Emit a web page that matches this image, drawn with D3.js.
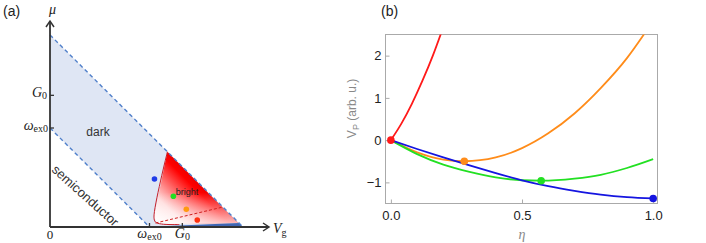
<!DOCTYPE html>
<html>
<head>
<meta charset="utf-8">
<script src="https://cdn.jsdelivr.net/npm/d3@7"></script>
<style>
  body { margin: 0; background: #fff; }
  #chart { width: 706px; height: 243px; }
  text { font-family: "Liberation Sans", Arial, sans-serif; }
  .serif { font-family: "Liberation Serif", "DejaVu Serif", serif; }
</style>
</head>
<body>
<div id="chart"></div>
<script>

// PANEL (a) DATA (units of omega_ex0)
const wex0 = 1.0;
const G0 = 1.33;
const topEdge = 1.94;
const darkRegion = [[0, wex0], [0, topEdge], [topEdge, 0], [wex0, 0]];
const brightRegion = [[1.18, 0.76], [1.89, 0.04], [1.2, 0.03], [1.08, 0.04], [1.045, 0.1]];
const stripRegion = [[1.05, 0], [topEdge, 0], [1.9, 0.04], [1.12, 0.008]];
const brightEdge = [[1.18, 0.76], [1.045, 0.1], [1.06, 0.05], [1.12, 0.03], [1.3, 0.025]];
const brightDashed = [[1.06, 0.04], [1.73, 0.2]];
const dotsA = [
    {v: 1.05, mu: 0.485, color: "#1f3ce8"},
    {v: 1.24, mu: 0.31, color: "#22e022"},
    {v: 1.37, mu: 0.18, color: "#ff9a10"},
    {v: 1.48, mu: 0.07, color: "#ff3010"}
];

// PANEL (b) DATA
const etaRed = [0, 0.04, 0.08, 0.12, 0.16, 0.2];
const vpRed = [0, 0.39, 0.86, 1.40, 2.00, 2.68];
const etaOrange = [0, 0.1, 0.2, 0.28, 0.4, 0.5, 0.6, 0.7, 0.8, 0.9, 0.97];
const vpOrange = [0, -0.29, -0.46, -0.5, -0.41, -0.19, 0.16, 0.63, 1.23, 1.94, 2.55];
const etaGreen = [0, 0.1, 0.2, 0.3, 0.4, 0.5, 0.573, 0.7, 0.8, 0.9, 1.0];
const vpGreen = [0, -0.33, -0.58, -0.75, -0.88, -0.95, -0.96, -0.91, -0.82, -0.66, -0.45];
const etaBlue = [0, 0.1, 0.2, 0.3, 0.4, 0.5, 0.6, 0.7, 0.8, 0.9, 1.0];
const vpBlue = [0, -0.21, -0.41, -0.6, -0.78, -0.95, -1.09, -1.2, -1.29, -1.35, -1.38];
const dotsB = [
    {eta: 0, vp: 0, color: "#ff1a1a"},
    {eta: 0.28, vp: -0.5, color: "#ff8c1a"},
    {eta: 0.573, vp: -0.96, color: "#22e022"},
    {eta: 1.0, vp: -1.38, color: "#1515e0"}
];
const xTicksB = [0, 0.5, 1.0];
const yTicksB = [-1, 0, 1, 2];

const width = 706, height = 243;
const svg = d3.select("#chart").append("svg")
    .attr("width", width).attr("height", height);

const defs = svg.append("defs");

// ---------- PANEL (a) ----------

const xA = d3.scaleLinear().domain([0, 1]).range([50, 149.5]);
const yA = d3.scaleLinear().domain([0, 1]).range([227, 128]);
const toPts = arr => arr.map(d => [xA(d[0]), yA(d[1])]);
const lineA = d3.line();

const ga = svg.append("g");

ga.append("text").attr("x", 3).attr("y", 16).attr("font-size", 14).attr("fill", "#222").text("(a)");

ga.append("path")
    .attr("d", lineA(toPts(darkRegion)) + "Z")
    .attr("fill", "#dfe6f4");

// gradient perpendicular to the top edge
const p0 = [xA(1.04), yA(0.04)];
const t = ((p0[0] - p0[1]) - (xA(0) - yA(topEdge))) / 2;
const p1 = [p0[0] - t, p0[1] + t];
const grad = defs.append("linearGradient").attr("id", "redGrad")
    .attr("gradientUnits", "userSpaceOnUse")
    .attr("x1", p0[0]).attr("y1", p0[1]).attr("x2", p1[0]).attr("y2", p1[1]);
grad.append("stop").attr("offset", 0).attr("stop-color", "#ffffff");
grad.append("stop").attr("offset", 0.35).attr("stop-color", "#ffd8d8");
grad.append("stop").attr("offset", 0.7).attr("stop-color", "#ff5050");
grad.append("stop").attr("offset", 0.9).attr("stop-color", "#ff0000");
grad.append("stop").attr("offset", 1).attr("stop-color", "#f00000");

const fade = defs.append("linearGradient").attr("id", "fadeGrad")
    .attr("gradientUnits", "userSpaceOnUse")
    .attr("x1", 0).attr("y1", yA(0.03)).attr("x2", 0).attr("y2", yA(0.35));
fade.append("stop").attr("offset", 0).attr("stop-color", "#fff").attr("stop-opacity", 0.75);
fade.append("stop").attr("offset", 1).attr("stop-color", "#fff").attr("stop-opacity", 0);

const brightPath = lineA.curve(d3.curveLinearClosed)(toPts(brightRegion));
ga.append("path").attr("d", brightPath).attr("fill", "url(#redGrad)");
ga.append("path").attr("d", brightPath).attr("fill", "url(#fadeGrad)");
lineA.curve(d3.curveLinear);

ga.append("path")
    .attr("d", lineA(toPts(stripRegion)) + "Z")
    .attr("fill", "#3f66b3");

ga.append("path")
    .attr("d", d3.line().curve(d3.curveCatmullRom)(toPts(brightEdge)))
    .attr("fill", "none").attr("stroke", "#c8202a").attr("stroke-width", 1);

ga.append("path")
    .attr("d", lineA(toPts(brightDashed)))
    .attr("fill", "none").attr("stroke", "#d02020").attr("stroke-width", 1)
    .attr("stroke-dasharray", "3,2");

// dashed boundaries
[[[0, wex0], [wex0, 0]], [[0, topEdge], [topEdge, 0]]].forEach(seg => {
    ga.append("path")
        .attr("d", lineA(toPts(seg)))
        .attr("stroke", "#4f7fca").attr("stroke-width", 1.4)
        .attr("stroke-dasharray", "4,3").attr("fill", "none");
});

ga.selectAll(".dotA").data(dotsA).enter().append("circle")
    .attr("cx", d => xA(d.v)).attr("cy", d => yA(d.mu))
    .attr("r", 2.8).attr("fill", d => d.color);

// axes
const ax0 = xA(0), ay0 = yA(0);
ga.append("line").attr("x1", ax0).attr("y1", ay0).attr("x2", ax0).attr("y2", 21)
    .attr("stroke", "#333").attr("stroke-width", 1.8);
ga.append("line").attr("x1", ax0).attr("y1", ay0).attr("x2", 269).attr("y2", ay0)
    .attr("stroke", "#333").attr("stroke-width", 1.8);
ga.append("path").attr("d", `M${ax0 - 4},${27} L${ax0},${21} L${ax0 + 4},${27}`)
    .attr("fill", "none").attr("stroke", "#333").attr("stroke-width", 1.5);
ga.append("path").attr("d", `M263,${ay0 - 4} L269,${ay0} L263,${ay0 + 4}`)
    .attr("fill", "none").attr("stroke", "#333").attr("stroke-width", 1.5);

// ticks
[wex0, G0].forEach(v => {
    ga.append("line").attr("x1", ax0).attr("x2", ax0 + 4).attr("y1", yA(v)).attr("y2", yA(v))
        .attr("stroke", "#333").attr("stroke-width", 1.3);
    ga.append("line").attr("y1", ay0).attr("y2", ay0 - 4).attr("x1", xA(v)).attr("x2", xA(v))
        .attr("stroke", "#333").attr("stroke-width", 1.3);
});

function omegaLabel(sel) {
    sel.append("tspan").attr("font-style", "italic").text("ω");
    sel.append("tspan").attr("font-size", 10).attr("dy", 2).text("ex0");
}
function gLabel(sel) {
    sel.append("tspan").attr("font-style", "italic").text("G");
    sel.append("tspan").attr("font-size", 10).attr("dy", 2).text("0");
}

ga.append("text").attr("class", "serif").attr("x", ax0 - 3).attr("y", yA(G0) + 2)
    .attr("text-anchor", "end").attr("font-size", 14).attr("fill", "#222").call(gLabel);
ga.append("text").attr("class", "serif").attr("x", ax0 - 2).attr("y", yA(wex0) + 2)
    .attr("text-anchor", "end").attr("font-size", 14).attr("fill", "#222").call(omegaLabel);
ga.append("text").attr("class", "serif").attr("x", ax0).attr("y", 239)
    .attr("text-anchor", "middle").attr("font-size", 13).attr("fill", "#222").text("0");
ga.append("text").attr("class", "serif").attr("x", xA(wex0)).attr("y", 238)
    .attr("text-anchor", "middle").attr("font-size", 14).attr("fill", "#222").call(omegaLabel);
ga.append("text").attr("class", "serif").attr("x", xA(G0)).attr("y", 238)
    .attr("text-anchor", "middle").attr("font-size", 14).attr("fill", "#222").call(gLabel);
ga.append("text").attr("class", "serif").attr("x", 49).attr("y", 14)
    .attr("font-size", 14).attr("font-style", "italic").attr("fill", "#222").text("μ");
ga.append("text").attr("class", "serif").attr("x", 273).attr("y", 233)
    .attr("font-size", 14).attr("fill", "#222")
    .call(s => {
        s.append("tspan").attr("font-style", "italic").text("V");
        s.append("tspan").attr("font-size", 10).attr("dy", 3).text("g");
    });

ga.append("text").attr("x", 98).attr("y", 136).attr("text-anchor", "middle")
    .attr("font-size", 12).attr("fill", "#333").text("dark");
ga.append("text").attr("x", 187).attr("y", 195).attr("text-anchor", "middle")
    .attr("font-size", 9).attr("fill", "#222").text("bright");
ga.append("text").attr("transform", "translate(85,196) rotate(42)")
    .attr("text-anchor", "middle").attr("dy", 4)
    .attr("font-size", 13).attr("fill", "#333").text("semiconductor");

// ---------- PANEL (b) ----------

const gb = svg.append("g");
const frame = {left: 385.5, right: 657.5, top: 34.5, bottom: 203.5};

const xB = d3.scaleLinear().domain([-0.0205, 1.0165]).range([frame.left, frame.right]);
const yB = d3.scaleLinear().domain([-1.5, 2.5]).range([frame.bottom, frame.top]);

gb.append("text").attr("x", 381).attr("y", 16).attr("font-size", 14).attr("fill", "#222").text("(b)");

defs.append("clipPath").attr("id", "clipB").append("rect")
    .attr("x", frame.left).attr("y", frame.top)
    .attr("width", frame.right - frame.left).attr("height", frame.bottom - frame.top);

gb.append("rect")
    .attr("x", frame.left).attr("y", frame.top)
    .attr("width", frame.right - frame.left).attr("height", frame.bottom - frame.top)
    .attr("fill", "none").attr("stroke", "#aaa").attr("stroke-width", 1);

const xAxisB = gb.append("g").attr("transform", `translate(0,${frame.bottom})`)
    .call(d3.axisTop(xB).tickValues(xTicksB).tickSize(4).tickFormat(d3.format(".1f")));
xAxisB.select(".domain").remove();
xAxisB.selectAll("line").attr("stroke", "#aaa");
xAxisB.selectAll("text").attr("y", 16).attr("dy", 0).attr("font-size", 13).attr("fill", "#222");

const yAxisB = gb.append("g").attr("transform", `translate(${frame.left},0)`)
    .call(d3.axisRight(yB).tickValues(yTicksB).tickSize(4).tickFormat(d => d < 0 ? "−" + Math.abs(d) : d));
yAxisB.select(".domain").remove();
yAxisB.selectAll("line").attr("stroke", "#aaa");
yAxisB.selectAll("text").attr("x", -4).attr("text-anchor", "end").attr("font-size", 13).attr("fill", "#222");

const curves = [
    {eta: etaRed, vp: vpRed, color: "#ff1a1a"},
    {eta: etaOrange, vp: vpOrange, color: "#ff8c1a"},
    {eta: etaGreen, vp: vpGreen, color: "#22e022"},
    {eta: etaBlue, vp: vpBlue, color: "#1515e0"}
];

const lineB = d3.line().curve(d3.curveMonotoneX)
    .x(d => xB(d[0])).y(d => yB(d[1]));

const plot = gb.append("g").attr("clip-path", "url(#clipB)");
curves.forEach(c => {
    plot.append("path")
        .datum(c.eta.map((e, i) => [e, c.vp[i]]))
        .attr("d", lineB)
        .attr("fill", "none").attr("stroke", c.color).attr("stroke-width", 1.8);
});

gb.selectAll(".dotB").data(dotsB).enter().append("circle")
    .attr("cx", d => xB(d.eta)).attr("cy", d => yB(d.vp))
    .attr("r", 3.8).attr("fill", d => d.color);

gb.append("text").attr("class", "serif").attr("x", xB(0.5)).attr("y", 239)
    .attr("text-anchor", "middle").attr("font-size", 14).attr("font-style", "italic")
    .attr("fill", "#888").text("η");

gb.append("text").attr("transform", `translate(356,${yB(0.75)}) rotate(-90)`)
    .attr("text-anchor", "middle").attr("font-size", 12).attr("fill", "#888")
    .call(s => {
        s.append("tspan").text("V");
        s.append("tspan").attr("font-size", 9).attr("dy", 3).text("P");
        s.append("tspan").attr("dy", -3).text(" (arb. u.)");
    });

</script>
</body>
</html>
